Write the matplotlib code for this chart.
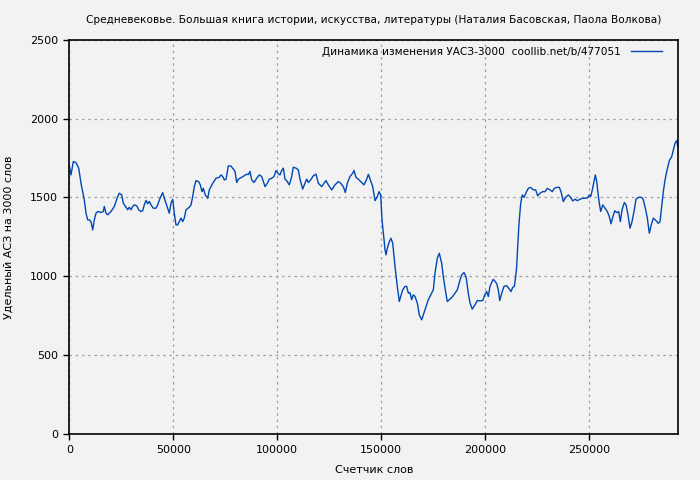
import matplotlib
matplotlib.use("Agg")
import matplotlib.pyplot as plt

plt.rcParams["font.family"] = "DejaVu Sans"

BG = "#f2f2f2"
LINE = "#0047b3"

TITLE = "Средневековье. Большая книга истории, искусства, литературы (Наталия Басовская, Паола Волкова)"
LEGEND_LABEL = "Динамика изменения УАСЗ-3000  coollib.net/b/477051"

# word counter position
words = [
    0, 817, 1923, 3221, 4520, 5625, 6442, 7212, 8029, 8846, 9616, 10433, 11250,
    12020, 12837, 13654, 15240, 16347, 16828, 17645, 18462, 20050, 21636, 23270,
    24040, 25194, 25963, 27262, 28079, 28848, 29665, 30483, 31252, 32406, 33367,
    34473, 35290, 36059, 36876, 37694, 38463, 39281, 40386, 41685, 42502, 43608,
    44906, 45675, 46492, 48079, 48896, 49713, 50483, 51300, 52117, 52886, 53703,
    54520, 55290, 56107, 57694, 58511, 59328, 60098, 60915, 62213, 62982, 63800,
    64425, 65386, 66540, 67310, 68127, 68944, 70531, 72117, 72935, 73752, 74521,
    75338, 76450, 77600, 78560, 79670, 80490, 81260, 82890, 84000, 85300, 86070,
    86880, 87700, 88800, 90100, 91350, 92500, 93280, 94100, 95200, 96160, 97310,
    98420, 99380, 100480, 101300, 102100, 102900, 103700, 104500, 105770, 106930,
    107700, 109000, 110100, 110920, 112200, 113300, 114140, 114900, 116070,
    117320, 118620, 119720, 121350, 123420, 124530, 126160, 127750, 129340,
    130500, 131740, 132700, 133660, 134960, 136260, 136880, 137840, 138950,
    140590, 141690, 142990, 143800, 145870, 147000, 148100, 148900, 149700,
    150350, 150980, 151800, 152270, 152900, 153860, 154670, 155490, 156600,
    157700, 158660, 159340, 160300, 161400, 162220, 163000, 163800, 164620,
    165390, 166210, 167320, 168280, 169430, 170200, 171500, 172600, 173760,
    175010, 175830, 176930, 177890, 179040, 179810, 180780, 181740, 183040,
    184340, 185440, 186560, 187850, 188670, 189770, 190740, 191840, 192660,
    193760, 195060, 196170, 197460, 198760, 199720, 200680, 201460, 202270,
    203090, 203860, 204680, 205500, 206270, 206940, 207900, 209010, 210310,
    211560, 212380, 213190, 213960, 214630, 215110, 215590, 216220, 217030,
    217800, 218620, 219580, 220690, 221840, 223090, 224240, 225200, 226310,
    227610, 228720, 229820, 231120, 232230, 233190, 234340, 235590, 236410,
    237510, 238670, 239920, 241070, 242030, 243140, 244240, 245540, 246840,
    247950, 249060, 250020, 250690, 251460, 252280, 252900, 253580, 254190,
    254820, 255490, 256460, 257570, 258670, 259630, 260450, 261270, 262230,
    263190, 264150, 264930, 265750, 266850, 267670, 268480, 269590, 270550,
    271510, 272470, 273580, 275220, 275980, 276950, 277910, 278870, 279690,
    280790, 281950, 283190, 284010, 284830, 285600, 286420, 287230, 288480,
    289630, 290400, 291220, 292040, 292520,
]

# specific ASZ per 3000 words
uasz = [
    1700, 1643, 1728, 1721, 1686, 1590, 1537, 1485, 1400, 1358, 1358, 1347, 1294,
    1358, 1400, 1411, 1405, 1411, 1443, 1400, 1390, 1411, 1443, 1506,
    1527, 1516, 1464, 1438, 1422, 1438, 1422, 1443, 1453, 1447, 1422,
    1411, 1416, 1453, 1481, 1460, 1475, 1453, 1432, 1432, 1453, 1495,
    1531, 1495, 1464, 1400, 1464, 1488, 1400, 1326, 1326, 1347, 1369,
    1347, 1369, 1422, 1438, 1453, 1506, 1569, 1607, 1600, 1580, 1537,
    1558, 1516, 1495, 1548, 1569, 1590, 1622, 1628, 1643, 1633, 1612,
    1615, 1700, 1700, 1686, 1665, 1595, 1616, 1628, 1637, 1648, 1645,
    1665, 1612, 1595, 1622, 1643, 1633, 1601, 1569, 1590, 1616, 1622,
    1633, 1671, 1650, 1643, 1671, 1686, 1616, 1607, 1580, 1633,
    1692, 1686, 1675, 1616, 1553, 1590, 1616, 1595, 1612,
    1637, 1648, 1590, 1569, 1607, 1580, 1548, 1580, 1601,
    1590, 1569, 1531, 1590, 1633, 1654, 1671, 1628, 1616,
    1595, 1580, 1616, 1647, 1569, 1480, 1506, 1537, 1516,
    1358, 1273, 1168, 1136, 1178, 1220, 1241, 1210, 1062,
    936, 840, 872, 914, 936, 936, 893, 896, 851,
    882, 872, 830, 755, 724, 755, 808, 851, 882,
    914, 1020, 1115, 1146, 1083, 998, 914, 840, 855,
    872, 893, 914, 977, 1009, 1024, 998, 893, 830,
    792, 819, 846, 844, 846, 882, 903, 872, 936,
    961, 981, 968, 953, 914, 846, 893, 936, 940,
    919, 903, 930, 936, 998, 1062, 1189, 1336, 1463,
    1516, 1501, 1530, 1558, 1564, 1548, 1548, 1510, 1527,
    1537, 1537, 1558, 1548, 1537, 1558, 1564, 1564, 1537,
    1474, 1501, 1516, 1501, 1478, 1489, 1480, 1489, 1495,
    1495, 1497, 1516, 1506, 1548, 1601, 1643, 1601, 1527,
    1463, 1411, 1453, 1432, 1411, 1379, 1333, 1374, 1416,
    1404, 1411, 1347, 1421, 1468, 1453, 1400, 1305, 1347,
    1411, 1489, 1501, 1501, 1485, 1432, 1369, 1273, 1320,
    1369, 1355, 1336, 1347, 1442, 1537, 1611, 1664, 1734,
    1759, 1801, 1844, 1861, 1823,
]

x_ticks = [0, 50000, 100000, 150000, 200000, 250000]
y_ticks = [0, 500, 1000, 1500, 2000, 2500]

fig = plt.figure(figsize=(7.0, 4.8), dpi=100, facecolor=BG)
ax = fig.add_axes([0.099, 0.096, 0.870, 0.821], facecolor=BG)

ax.plot(words, uasz, color=LINE, linewidth=1.0, label=LEGEND_LABEL)

ax.set_xlim(0, 292800)
ax.set_ylim(0, 2500)
ax.set_xticks(x_ticks)
ax.set_xticklabels([str(t) for t in x_ticks])
ax.set_yticks(y_ticks)
ax.set_yticklabels([str(t) for t in y_ticks])
ax.tick_params(direction="out", length=4, width=1, labelsize=8, colors="black",
               top=False, right=False, pad=4)

for side in ax.spines.values():
    side.set_color("black")
    side.set_linewidth(1.2)

ax.grid(True, color="#a0a0a0", linestyle=(0, (2, 3)), linewidth=0.9)
ax.set_axisbelow(True)

ax.set_title(TITLE, fontsize=7.6, pad=12)
ax.set_xlabel("Счетчик слов", fontsize=8, labelpad=7)
ax.set_ylabel("Удельный АСЗ на 3000 слов", fontsize=8, labelpad=12)

leg = ax.legend(loc="upper right", frameon=False, fontsize=7.6, markerfirst=False,
                handlelength=3.0, borderaxespad=0.25, handletextpad=0.9,
                bbox_to_anchor=(0.985, 1.0))

fig.savefig("out.png", dpi=100, facecolor=BG)
